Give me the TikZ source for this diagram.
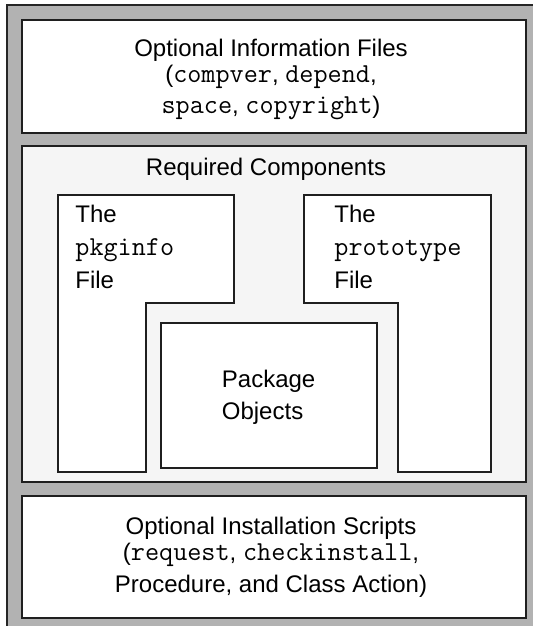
\documentclass[tikz,border=0pt]{standalone}
\usepackage{fontspec}
\setmainfont{Liberation Sans}
\usepackage{tikz}
\usetikzlibrary{positioning}

% file names in typewriter, sized to Courier widths
\newcommand{\fname}[1]{{\fontsize{13.7}{13}\selectfont\ttfamily #1}}

\begin{document}
\begin{tikzpicture}[x=0.5pt, y=-0.5pt,
    fbox/.style={draw=black!88, line width=1pt},
    wbox/.style={fbox, fill=white},
    txt/.style={inner sep=0pt, align=center, anchor=base, font=\fontsize{12}{13}\selectfont},
    ltxt/.style={txt, align=left, anchor=base west}]

    \useasboundingbox (0,0) rectangle (533,626);

    % grey tray behind everything
    \fill[black!30] (7,5) rectangle (533,626);
    \draw[black!85, line width=0.8pt] (7,626) -- (7,5) -- (533,5);

    % boxes
    \draw[wbox] (22,20) rectangle (526,133);
    \draw[fbox, fill=black!4] (22,145.5) rectangle (526,482);
    \draw[wbox] (58,194.5) -- (233.5,194.5) -- (233.5,303) -- (145.5,303) -- (145.5,471.5) -- (58,471.5) -- cycle;
    \draw[wbox] (304,194.5) -- (490.5,194.5) -- (490.5,471.5) -- (397.5,471.5) -- (397.5,303) -- (304,303) -- cycle;
    \draw[wbox] (160.5,323) rectangle (377,468);
    \draw[wbox] (22,495.5) rectangle (526,618);

    % texts (base = last line)
    \node[txt] (optinfo) at (271,113.9) {Optional Information Files\\(\fname{compver}, \fname{depend},\\[2.5pt]\fname{space}, \fname{copyright})};
    \node[txt] (reqcomp) at (266,176) {Required Components};
    \node[ltxt, font=\fontsize{12}{16.5}\selectfont] (pkginfo) at (75,288.2) {The\\\fname{pkginfo}\\File};
    \node[ltxt, font=\fontsize{12}{16.5}\selectfont] (prototype) at (334,288.2) {The\\\fname{prototype}\\File};
    \node[ltxt, font=\fontsize{12}{16}\selectfont] (pkgobj) at (221.5,419) {Package\\Objects};
    \node[txt] (optscripts) at (271,592.3) {Optional Installation Scripts\\(\fname{request}, \fname{checkinstall},\\[3pt]Procedure, and Class Action)};
\end{tikzpicture}
\end{document}
